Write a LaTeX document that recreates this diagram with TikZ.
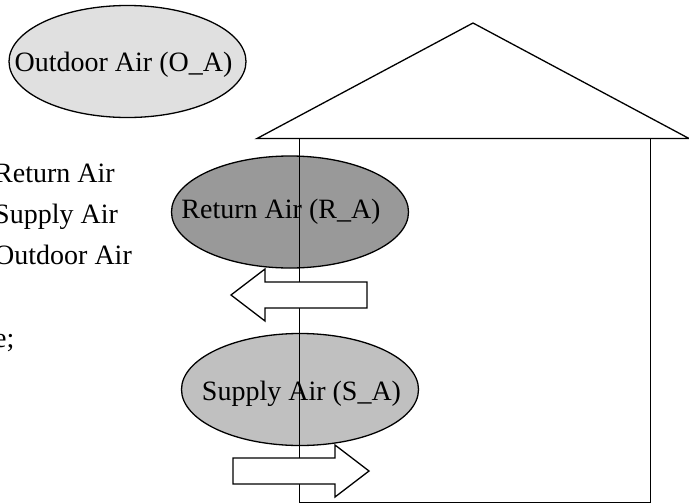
\documentclass[tikz,border=0pt]{standalone}
\usepackage{fontspec}
\setmainfont{Liberation Serif}
\usetikzlibrary{shapes.geometric}
\definecolor{outfill}{RGB}{224, 224, 224}
\definecolor{retfill}{RGB}{153, 153, 153}
\definecolor{supfill}{RGB}{192, 192, 192}
\newcommand*{\zw}{237}
\newcommand*{\zh}{112}

\begin{document}
\begin{tikzpicture}[
   x=1pt, y=-1pt,
   zone/.style={ellipse, draw=black, line width=1.3, inner sep=0,
                minimum width=\zw, minimum height=\zh},
   zonetext/.style={font=\fontsize{28}{34}\selectfont, inner sep=0},
   keytext/.style={font=\fontsize{28}{34}\selectfont, inner sep=0, anchor=base west},
   wall/.style={draw=black, line width=1},
   roof/.style={draw=black, line width=1.3, line join=miter},
   flow/.style={draw=black, fill=white, line width=1.3}
  ]

  % Page
  \clip (0, 0) rectangle (689, 504);

  % Key (cut at the left edge)
  \foreach \name/\txt/\yy in {keyRA/Return Air/182, keySA/Supply Air/223,
                              keyOA/Outdoor Air/264.5, keyend/e;/347} {
    \node (\name) [keytext] at (-6, \yy) {\txt};
  }

  % Air zones
  \node (OA) [zone, fill=outfill,
              label={[zonetext, xshift=-4pt, yshift=-3pt]center:Outdoor Air (O\_A)}]
        at (127.5, 61.5) {};
  \node (RA) [zone, fill=retfill,
              label={[zonetext, xshift=-9pt]center:Return Air (R\_A)}]
        at (290, 212) {};
  \node (SA) [zone, fill=supfill,
              label={[zonetext, xshift=1.5pt, yshift=-4pt]center:Supply Air (S\_A)}]
        at (300, 389.5) {};

  % House
  \draw[roof] (257, 138.5) -- (473, 23) -- (689, 138.5) -- cycle;
  \draw[wall] (299, 138.5) -- (299, 502) -- (650, 502) -- (650, 138.5);

  % Flow arrows
  \foreach \tx/\dir/\yy in {367/-1/295, 233/1/471} {
    \draw[flow] (\tx, {\yy-13}) -- ({\tx+\dir*102}, {\yy-13})
      -- ({\tx+\dir*102}, {\yy-26}) -- ({\tx+\dir*136}, \yy)
      -- ({\tx+\dir*102}, {\yy+26}) -- ({\tx+\dir*102}, {\yy+13})
      -- (\tx, {\yy+13}) -- cycle;
  }

\end{tikzpicture}
\end{document}
